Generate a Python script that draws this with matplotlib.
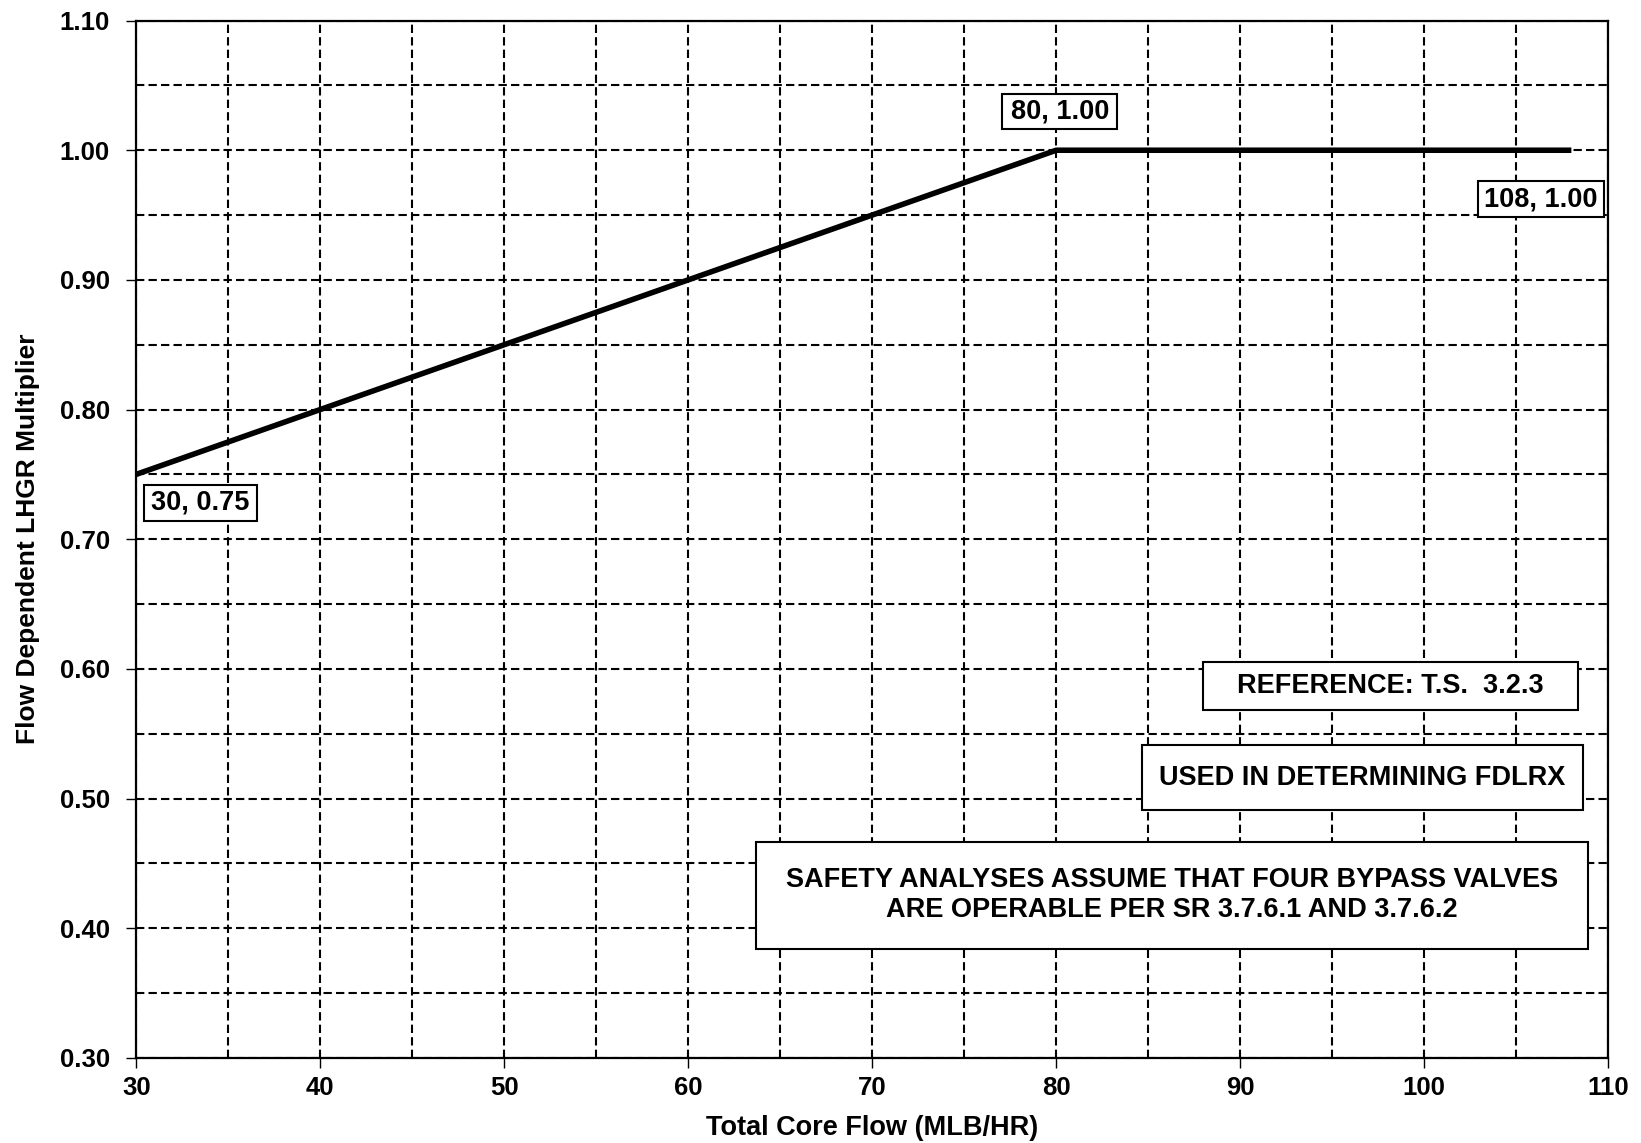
import matplotlib
matplotlib.use("Agg")
import matplotlib.pyplot as plt
import numpy as np
from matplotlib.ticker import MultipleLocator
from matplotlib.patches import Rectangle

plt.rcParams['font.family'] = ['Liberation Sans', 'DejaVu Sans']
plt.rcParams['font.weight'] = 'bold'

# curve data
flow = [30, 80, 108]
mult = [0.75, 1.00, 1.00]

# text boxes: label, and box extent in data units (x0, x1, y0, y1)
box_text = ["30, 0.75", "80, 1.00", "108, 1.00",
            "REFERENCE: T.S.  3.2.3",
            "USED IN DETERMINING FDLRX",
            "SAFETY ANALYSES ASSUME THAT FOUR BYPASS VALVES\nARE OPERABLE PER SR 3.7.6.1 AND 3.7.6.2"]
box_x0 = [30.40, 77.08, 102.95, 88.00, 84.64, 63.66]
box_x1 = [36.54, 83.33, 109.77, 108.35, 108.63, 108.92]
box_y0 = [0.7138, 1.0166, 0.9486, 0.5680, 0.4911, 0.3842]
box_y1 = [0.7421, 1.0433, 0.9761, 0.6053, 0.5413, 0.4668]

fig = plt.figure(figsize=(16.41, 11.43), dpi=100)
ax = fig.add_axes([0.083, 0.0745, 0.897, 0.9075])

ax.plot(flow, mult, color='black', lw=4, solid_capstyle='butt', zorder=3)

ax.set_xlim(30, 110)
ax.set_ylim(0.30, 1.10)
ax.xaxis.set_major_locator(MultipleLocator(10))
ax.xaxis.set_minor_locator(MultipleLocator(5))
ax.yaxis.set_major_locator(MultipleLocator(0.10))
ax.yaxis.set_minor_locator(MultipleLocator(0.05))
ax.yaxis.set_major_formatter(plt.FuncFormatter(lambda v, p: "%.2f" % v))
ax.grid(which='both', color='black', linestyle=(0, (4, 2)), lw=1.5)
ax.tick_params(which='major', direction='out', length=7, width=1, labelsize=18.5)
ax.tick_params(axis='x', pad=6)
ax.tick_params(axis='y', pad=12)
ax.tick_params(which='minor', length=0)
for lab in ax.get_xticklabels() + ax.get_yticklabels():
    lab.set_fontweight('bold')
for s in ax.spines.values():
    s.set_linewidth(1.6)

ax.set_xlabel("Total Core Flow (MLB/HR)", fontsize=19.5, fontweight='bold', labelpad=11)
ax.set_ylabel("Flow Dependent LHGR Multiplier", fontsize=19, fontweight='bold', labelpad=14)

for t, x0, x1, y0, y1 in zip(box_text, box_x0, box_x1, box_y0, box_y1):
    ax.add_patch(Rectangle((x0, y0), x1 - x0, y1 - y0, fc='white', ec='black',
                           lw=1.5, zorder=4))
    ax.text((x0 + x1) / 2, (y0 + y1) / 2, t, ha='center', va='center',
            fontsize=19.5, fontweight='bold', zorder=5, linespacing=1.2)

fig.savefig("out.png", dpi=100)
